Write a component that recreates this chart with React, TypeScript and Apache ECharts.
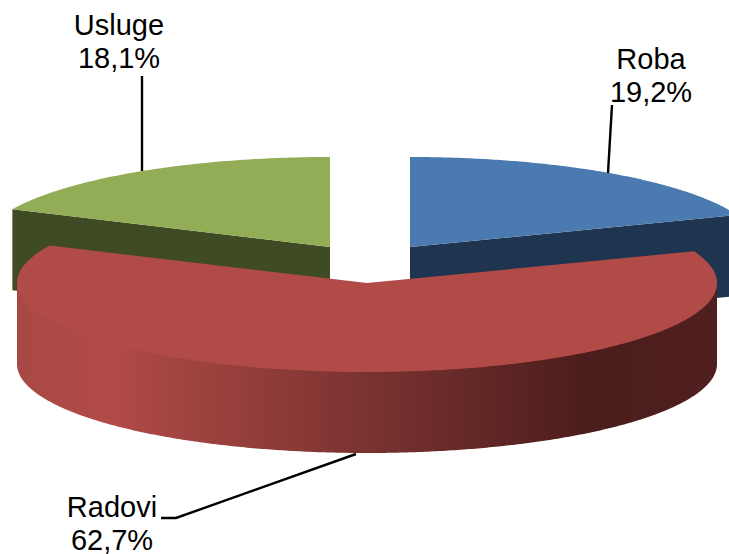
import React, { useEffect, useRef } from "react";
import * as echarts from "echarts";

// Data
const categories = ["Roba", "Radovi", "Usluge"];
const shares = [19.2, 62.7, 18.1];

// Look
const topColors = ["#4a7ab0", "#b14b47", "#92ad55"];
const cutColors = ["#1f344f", "#4f201f", "#3f4b24"];
const apexX = [410, 367, 330];
const apexY = [247, 283, 247];
const radiiY = [90, 89, 90];
const layerZ = [1, 5, 1];
const labelX = [651, 112, 119];
const labelY = [75, 523, 41];
const leaders = [
  [[612, 105], [608, 173]],
  [[161, 518], [176, 518], [356, 454]],
  [[142, 76], [142, 171]],
];
const radiusX = 350;
const depth = 81;

const W = 729;
const H = 554;

const percent = (v: number) => v.toFixed(1).replace(".", ",") + "%";

function rimPoints(cx: number, cy: number, ry: number, from: number, to: number, dy = 0) {
  const pts: number[][] = [];
  const n = Math.max(2, Math.ceil(Math.abs(to - from) * 2));
  for (let k = 0; k <= n; k++) {
    const t = ((from + ((to - from) * k) / n) * Math.PI) / 180;
    pts.push([cx + radiusX * Math.sin(t), cy - ry * Math.cos(t) + dy]);
  }
  return pts;
}

function renderSlice(params: any, api: any) {
  const i = params.dataIndex;
  const total = shares.reduce((a, b) => a + b, 0);
  const before = shares.slice(0, i).reduce((a, b) => a + b, 0);
  const from = (before / total) * 360;
  const to = ((before + api.value(0)) / total) * 360;
  const cx = apexX[i];
  const cy = apexY[i];
  const ry = radiiY[i];
  const z = layerZ[i];
  const children: any[] = [];
  const top = rimPoints(cx, cy, ry, from, to);

  // Cut faces that look towards the viewer
  [from, to].forEach((a) => {
    const c = Math.cos((a * Math.PI) / 180);
    const s = Math.sin((a * Math.PI) / 180);
    const facing = (a === to && s > 0 && a < 180) || (a === from && s < 0 && a > 180);
    if (!facing) return;
    const p = [cx + radiusX * s, cy - ry * c];
    children.push({
      type: "polygon",
      z2: z,
      shape: { points: [[cx, cy], p, [p[0], p[1] + depth], [cx, cy + depth]] },
      style: { fill: cutColors[i] },
    });
  });

  // Outer wall, only the part in front
  const wFrom = Math.max(from, 90);
  const wTo = Math.min(to, 270);
  if (wTo > wFrom) {
    const upper = rimPoints(cx, cy, ry, wFrom, wTo, -1.5);
    const lower = rimPoints(cx, cy, ry, wFrom, wTo, depth).reverse();
    children.push({
      type: "polygon",
      z2: z + 1,
      shape: { points: upper.concat(lower) },
      style: {
        fill: new echarts.graphic.LinearGradient(0, 0, W, 0, [
          { offset: 17 / W, color: "#a84845" },
          { offset: 110 / W, color: "#b14b47" },
          { offset: 590 / W, color: "#4b1d1c" },
          { offset: 717 / W, color: "#4f201f" },
        ], true),
      },
    });
  }

  // Top surface
  children.push({
    type: "polygon",
    z2: z + 2,
    shape: { points: [[cx, cy]].concat(top) },
    style: { fill: topColors[i] },
  });

  // Leader
  children.push({
    type: "polyline",
    z2: 10,
    shape: { points: leaders[i] },
    style: { fill: "none", stroke: "#000000", lineWidth: 2.4 },
  });

  // Label
  children.push({
    type: "text",
    z2: 11,
    x: labelX[i],
    y: labelY[i],
    style: {
      text: categories[i] + "\n" + percent(api.value(0)),
      font: '29px "Liberation Sans", Arial, sans-serif',
      lineHeight: 33,
      fill: "#000000",
      align: "center",
      verticalAlign: "middle",
    },
  });

  return { type: "group", children };
}

export default function App() {
  const ref = useRef<HTMLDivElement>(null);
  useEffect(() => {
    const chart = echarts.init(ref.current!, undefined, { renderer: "svg", width: W, height: H });
    chart.setOption({
      animation: false,
      backgroundColor: "#ffffff",
      series: [
        {
          type: "custom",
          coordinateSystem: "none",
          silent: true,
          clip: false,
          renderItem: renderSlice,
          data: shares.map((v) => [v]),
        },
      ],
    });
    return () => chart.dispose();
  }, []);
  return <div ref={ref} style={{ position: "absolute", left: 0, top: 0, width: W, height: H }} />;
}
